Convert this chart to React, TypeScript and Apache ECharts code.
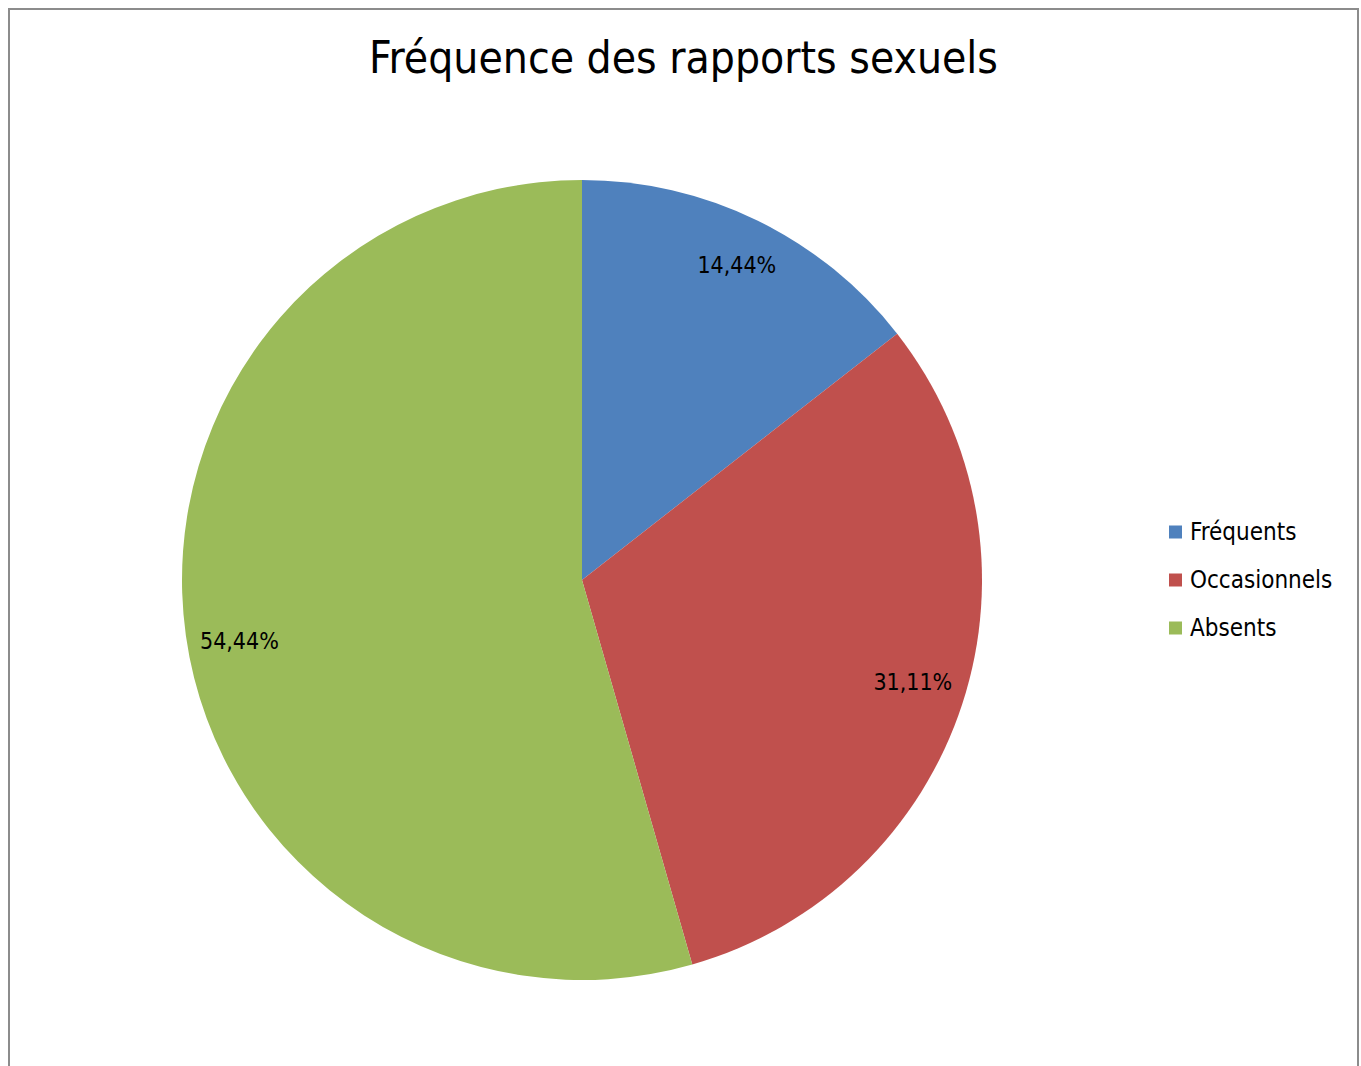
import React, { useEffect, useRef } from "react";
import * as echarts from "echarts";

const titleText = "Fréquence des rapports sexuels";
const categories = ["Fréquents", "Occasionnels", "Absents"];
const values = [14.44, 31.11, 54.44];
const labels = ["14,44%", "31,11%", "54,44%"];
const colors = ["#4F81BD", "#C0504D", "#9BBB59"];
const labelNudges = [[1, 0], [-3, -6], [5, 12]];

const FONT = "'Liberation Sans Narrow', 'DejaVu Sans Condensed', 'Liberation Sans', sans-serif";

export default function App() {
  const ref = useRef<HTMLDivElement>(null);
  useEffect(() => {
    if (!ref.current) return;
    const chart = echarts.init(ref.current, undefined, { renderer: "svg" });
    const data = categories.map((name, i) => ({ name, value: values[i] }));
    chart.setOption({
      animation: false,
      color: colors,
      title: {
        text: titleText,
        left: "center",
        top: 20,
        textStyle: { fontFamily: FONT, fontSize: 44, fontWeight: "normal", color: "#000" },
      },
      legend: {
        orient: "vertical",
        left: 1154,
        top: 505,
        icon: "rect",
        itemWidth: 13,
        itemHeight: 13,
        itemGap: 24,
        data: categories,
        textStyle: { fontFamily: FONT, fontSize: 24, color: "#000", padding: [0, 0, 0, 3] },
      },
      series: [
        {
          type: "pie",
          center: [572, 570],
          radius: [0, 400],
          startAngle: 90,
          clockwise: true,
          silent: true,
          data,
          label: { show: false },
          labelLine: { show: false },
        },
        {
          type: "pie",
          center: [572, 570],
          radius: [300, 396],
          startAngle: 90,
          clockwise: true,
          silent: true,
          data: data.map((d, i) => ({
            ...d,
            itemStyle: { color: "rgba(0,0,0,0)" },
            label: { offset: labelNudges[i] },
          })),
          label: {
            show: true,
            position: "inside",
            formatter: (p: any) => labels[p.dataIndex],
            fontFamily: FONT,
            fontSize: 23,
            color: "#000",
          },
          labelLine: { show: false },
        },
      ],
    });
    return () => chart.dispose();
  }, []);
  return (
    <div
      style={{
        position: "fixed",
        left: 8,
        top: 8,
        width: 1351,
        height: 1070,
        borderTop: "2px solid #8c8c8c",
        borderLeft: "2px solid #8c8c8c",
        borderRight: "2px solid #8c8c8c",
        boxSizing: "border-box",
        background: "#fff",
        overflow: "hidden",
      }}
    >
      <div ref={ref} style={{ width: 1347, height: 1066 }} />
    </div>
  );
}
